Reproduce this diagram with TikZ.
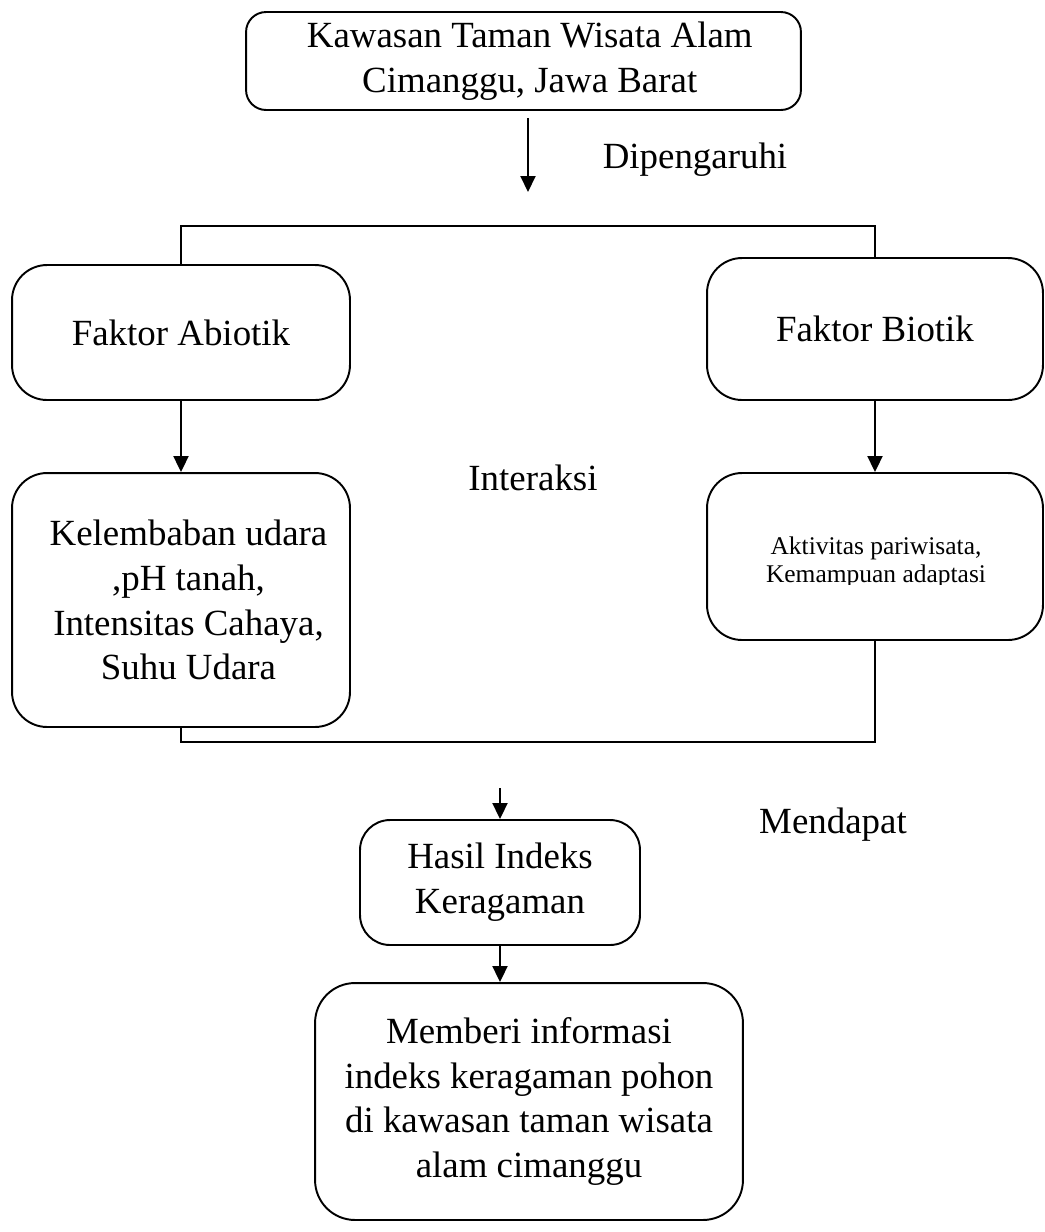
\documentclass[tikz,border=0pt]{standalone}
\usepackage{fontspec}
\setmainfont{Liberation Serif}
\usetikzlibrary{arrows.meta}

\begin{document}
\begin{tikzpicture}[x=0.02cm, y=-0.02cm,
    box/.style={draw, line width=1.1pt, rounded corners=0.7cm, align=center, inner sep=0pt},
    flow/.style={-{Triangle[width=0.3cm,length=0.32cm]}, line width=1.1pt},
    link/.style={line width=1.1pt},
    big/.style={font=\fontsize{21}{25.5}\selectfont},
    small/.style={font=\fontsize{14.5}{16}\selectfont, anchor=base}]
    \useasboundingbox (0,0) rectangle (1045,1232);

    % Top: location
    \node[box, big, rounded corners=0.4cm, minimum width=11.1cm, minimum height=1.96cm] (lokasi) at (523.5,61)
        {\hspace*{0.25cm}Kawasan Taman Wisata Alam\\\hspace*{0.25cm}Cimanggu, Jawa Barat};
    \coordinate (pengA) at (528,118);
    \coordinate (pengB) at (528,192);
    \draw[flow] (pengA) -- (pengB);
    \node[big] (dipengaruhi) at (695,160) {Dipengaruhi};

    % Factors
    \node[box, big, minimum width=6.76cm, minimum height=2.7cm] (abiotik) at (181,332.5) {Faktor Abiotik};
    \node[box, big, minimum width=6.72cm, minimum height=2.84cm] (biotik) at (875,329) {Faktor Biotik};
    \coordinate (split) at (528,226);
    \draw[link] (abiotik.north) |- (biotik.north |- split) -- (biotik.north);

    % Details of factors
    \node[box, big, minimum width=6.76cm, minimum height=5.08cm] (abiodetail) at (181,600)
        {\hspace*{0.3cm}Kelembaban udara\\\hspace*{0.3cm},pH tanah,\\\hspace*{0.3cm}Intensitas Cahaya,\\\hspace*{0.3cm}Suhu Udara};
    \node[box, minimum width=6.72cm, minimum height=3.34cm] (biodetail) at (875,556.5) {};
    \begin{scope}
        \clip (700,500) rectangle (1045,584);
        \node[small] (biotextA) at (876,554) {Aktivitas pariwisata,};
        \node[small] (biotextB) at (876,582) {Kemampuan adaptasi};
    \end{scope}
    \draw[flow] (abiotik.south) -- (abiodetail.north);
    \draw[flow] (biotik.south) -- (biodetail.north);
    \node[big] (interaksi) at (533,478) {Interaksi};
    \coordinate (join) at (528,742);
    \draw[link] (biodetail.south) |- (abiodetail.south |- join) -- (abiodetail.south);

    % Result
    \node[box, big, rounded corners=0.6cm, minimum width=5.6cm, minimum height=2.5cm] (hasil) at (500,882.5)
        {Hasil Indeks\\Keragaman};
    \coordinate (hasilIn) at (500,788);
    \draw[flow] (hasilIn) -- (hasil.north);
    \node[big] (mendapat) at (833,825) {Mendapat};

    % Information
    \node[box, big, rounded corners=0.8cm, minimum width=8.56cm, minimum height=4.74cm] (info) at (529,1101.5)
        {Memberi informasi\\indeks keragaman pohon\\di kawasan taman wisata\\alam cimanggu};
    \draw[flow] (hasil.south) -- (hasil.south |- info.north);
\end{tikzpicture}
\end{document}
